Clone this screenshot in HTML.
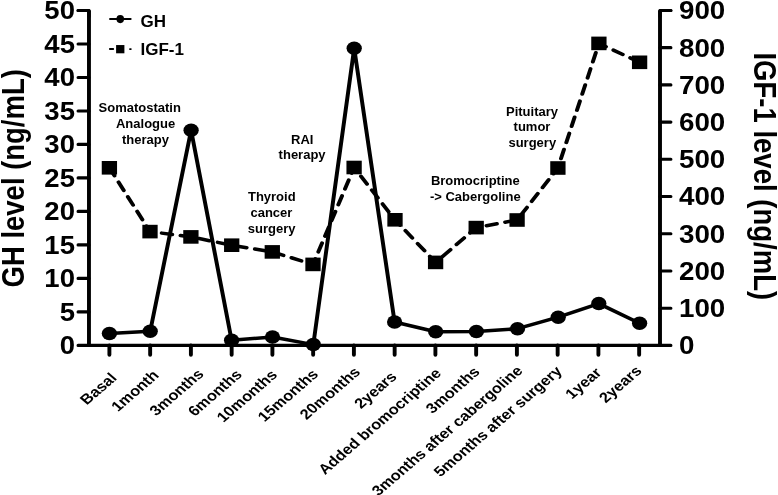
<!DOCTYPE html>
<html><head><meta charset="utf-8"><style>
html,body{margin:0;padding:0;background:#fff;}
svg{display:block;font-family:"Liberation Sans", sans-serif;filter:grayscale(1);}
</style></head><body>
<svg width="778" height="495" viewBox="0 0 778 495">
<rect width="778" height="495" fill="#fff"/>
<path d="M88.97 345.4V10.44" stroke="#000" stroke-width="3.9" fill="none"/>
<path d="M660 345.4V10.44" stroke="#000" stroke-width="3.9" fill="none"/>
<path d="M78.07 345.4H670.9M78.07 311.9H88.97M78.07 278.41H88.97M78.07 244.91H88.97M78.07 211.42H88.97M78.07 177.92H88.97M78.07 144.42H88.97M78.07 110.93H88.97M78.07 77.43H88.97M78.07 43.94H88.97M78.07 10.44H88.97M660 308.18H670.9M660 270.96H670.9M660 233.75H670.9M660 196.53H670.9M660 159.31H670.9M660 122.09H670.9M660 84.88H670.9M660 47.66H670.9M660 10.44H670.9" stroke="#000" stroke-width="3.1" fill="none" stroke-linecap="round"/>
<path d="M78.07 10.44H88.97V16.44" stroke="#000" stroke-width="3.1" fill="none" stroke-linecap="round" stroke-linejoin="round"/>
<path d="M670.9 10.44H660V16.44" stroke="#000" stroke-width="3.1" fill="none" stroke-linecap="round" stroke-linejoin="round"/>
<path d="M109.4 345.4V354.7M150.15 345.4V354.7M190.9 345.4V354.7M231.65 345.4V354.7M272.4 345.4V354.7M313.15 345.4V354.7M353.9 345.4V354.7M394.65 345.4V354.7M435.4 345.4V354.7M476.15 345.4V354.7M516.9 345.4V354.7M557.65 345.4V354.7M598.4 345.4V354.7M639.15 345.4V354.7" stroke="#000" stroke-width="3.9" fill="none" stroke-linecap="round"/>
<g font-size="25" font-weight="bold" text-anchor="end"><text transform="translate(74.95 354.25) scale(1.1 1)">0</text><text transform="translate(74.95 320.75) scale(1.1 1)">5</text><text transform="translate(74.95 287.26) scale(1.1 1)">10</text><text transform="translate(74.95 253.76) scale(1.1 1)">15</text><text transform="translate(74.95 220.27) scale(1.1 1)">20</text><text transform="translate(74.95 186.77) scale(1.1 1)">25</text><text transform="translate(74.95 153.27) scale(1.1 1)">30</text><text transform="translate(74.95 119.78) scale(1.1 1)">35</text><text transform="translate(74.95 86.28) scale(1.1 1)">40</text><text transform="translate(74.95 52.79) scale(1.1 1)">45</text><text transform="translate(74.95 19.29) scale(1.1 1)">50</text></g>
<g font-size="25" font-weight="bold" text-anchor="start"><text transform="translate(679 354.25) scale(1.11 1)">0</text><text transform="translate(679 317.03) scale(1.11 1)">100</text><text transform="translate(679 279.81) scale(1.11 1)">200</text><text transform="translate(679 242.6) scale(1.11 1)">300</text><text transform="translate(679 205.38) scale(1.11 1)">400</text><text transform="translate(679 168.16) scale(1.11 1)">500</text><text transform="translate(679 130.94) scale(1.11 1)">600</text><text transform="translate(679 93.73) scale(1.11 1)">700</text><text transform="translate(679 56.51) scale(1.11 1)">800</text><text transform="translate(679 19.29) scale(1.11 1)">900</text></g>
<text transform="translate(24.2 287.4) rotate(-90) scale(0.8586 1)" font-size="32" font-weight="bold">GH level (ng/mL)</text>
<text transform="translate(754.2 52.4) rotate(90) scale(0.8606 1)" font-size="32" font-weight="bold">IGF-1 level (ng/mL)</text>
<g transform="scale(1.13 1)" fill="none" stroke="#000" stroke-linejoin="round"><path d="M96.81 333.6 L132.92 331.2 L169.12 130.3 L204.96 340.3 L241.15 337 L277.26 344.6 L313.45 48.2 L349.2 322 L385.58 331.7 L421.59 331.6 L457.96 328.7 L493.98 317.2 L529.91 303.6 L566.02 323.2" stroke-width="3.5"/><path d="M96.81 167.8 L132.74 231.6 L168.94 236.9 L205.04 245.2 L240.97 251.9 L276.99 264.4 L313.36 167.5 L349.56 219.8 L385.49 262.4 L421.42 227.6 L457.61 220 L493.72 168 L530 43.4 L566.02 62.3" stroke-width="3.5" stroke-linecap="round" stroke-dasharray="9.4 7.4" stroke-dashoffset="0.3"/></g>
<ellipse cx="109.4" cy="333.6" rx="7.65" ry="6.75"/>
<ellipse cx="150.2" cy="331.2" rx="7.65" ry="6.75"/>
<ellipse cx="191.1" cy="130.3" rx="7.65" ry="6.75"/>
<ellipse cx="231.6" cy="340.3" rx="7.65" ry="6.75"/>
<ellipse cx="272.5" cy="337" rx="7.65" ry="6.75"/>
<ellipse cx="313.3" cy="344.6" rx="7.65" ry="6.75"/>
<ellipse cx="354.2" cy="48.2" rx="7.65" ry="6.75"/>
<ellipse cx="394.6" cy="322" rx="7.65" ry="6.75"/>
<ellipse cx="435.7" cy="331.7" rx="7.65" ry="6.75"/>
<ellipse cx="476.4" cy="331.6" rx="7.65" ry="6.75"/>
<ellipse cx="517.5" cy="328.7" rx="7.65" ry="6.75"/>
<ellipse cx="558.2" cy="317.2" rx="7.65" ry="6.75"/>
<ellipse cx="598.8" cy="303.6" rx="7.65" ry="6.75"/>
<ellipse cx="639.6" cy="323.2" rx="7.65" ry="6.75"/>
<rect x="101.75" y="161" width="15.3" height="13.6"/>
<rect x="142.35" y="224.8" width="15.3" height="13.6"/>
<rect x="183.25" y="230.1" width="15.3" height="13.6"/>
<rect x="224.05" y="238.4" width="15.3" height="13.6"/>
<rect x="264.65" y="245.1" width="15.3" height="13.6"/>
<rect x="305.35" y="257.6" width="15.3" height="13.6"/>
<rect x="346.45" y="160.7" width="15.3" height="13.6"/>
<rect x="387.35" y="213" width="15.3" height="13.6"/>
<rect x="427.95" y="255.6" width="15.3" height="13.6"/>
<rect x="468.55" y="220.8" width="15.3" height="13.6"/>
<rect x="509.45" y="213.2" width="15.3" height="13.6"/>
<rect x="550.25" y="161.2" width="15.3" height="13.6"/>
<rect x="591.25" y="36.6" width="15.3" height="13.6"/>
<rect x="631.95" y="55.5" width="15.3" height="13.6"/>
<path d="M110 18.95H130.7" stroke="#000" stroke-width="1.9" stroke-linecap="round"/>
<ellipse cx="120.25" cy="19.1" rx="3.8" ry="4.05"/>
<path d="M109.9 49H113.2M130 49.1H130.8" stroke="#000" stroke-width="1.9" stroke-linecap="round"/>
<rect x="116.1" y="45.05" width="8.3" height="8.25"/>
<text x="140.5" y="26.6" font-size="17" font-weight="bold">GH</text>
<text x="140.5" y="55.4" font-size="17" font-weight="bold">IGF-1</text>
<g font-size="13" font-weight="bold" text-anchor="middle"><text x="139.7" y="112.4">Somatostatin</text><text x="145.6" y="128.2">Analogue</text><text x="145.5" y="143.8">therapy</text><text x="271.8" y="201.2">Thyroid</text><text x="271.4" y="217">cancer</text><text x="271.7" y="232.7">surgery</text><text x="302.2" y="143.6">RAI</text><text x="302.1" y="159.4">therapy</text><text x="475.3" y="184.8">Bromocriptine</text><text x="475.3" y="200.6">-&gt; Cabergoline</text><text x="532" y="115.8">Pituitary</text><text x="532" y="131.4">tumor</text><text x="532.3" y="146.9">surgery</text></g>
<g font-size="14.15" font-weight="bold" text-anchor="end"><text transform="translate(117.8 378.8) scale(1.16 1) rotate(-45)">Basal</text><text transform="translate(159.8 376.2) scale(1.16 1) rotate(-45)">1month</text><text transform="translate(204.6 374.9) scale(1.16 1) rotate(-45)">3months</text><text transform="translate(243 375.4) scale(1.16 1) rotate(-45)">6months</text><text transform="translate(278.2 375.8) scale(1.16 1) rotate(-45)">10months</text><text transform="translate(319.2 375.2) scale(1.16 1) rotate(-45)">15months</text><text transform="translate(361.2 372.9) scale(1.16 1) rotate(-45)">20months</text><text transform="translate(397.8 377.6) scale(1.16 1) rotate(-45)">2years</text><text transform="translate(442.2 374.1) scale(1.16 1) rotate(-45)">Added bromocriptine</text><text transform="translate(480.8 372.7) scale(1.16 1) rotate(-45)">3months</text><text transform="translate(523.6 371.6) scale(1.16 1) rotate(-45)">3months after cabergoline</text><text transform="translate(563 372) scale(1.16 1) rotate(-45)">5months after surgery</text><text transform="translate(602.4 373.5) scale(1.16 1) rotate(-45)">1year</text><text transform="translate(642.6 371.8) scale(1.16 1) rotate(-45)">2years</text></g>
</svg>
</body></html>
